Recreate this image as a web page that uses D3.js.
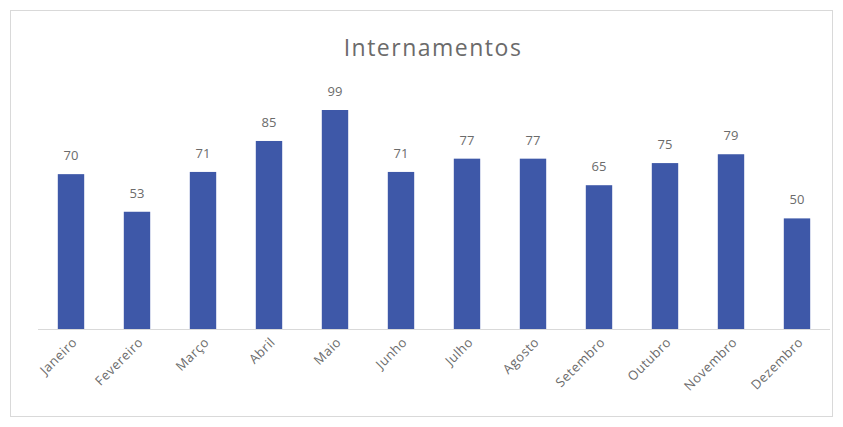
<!DOCTYPE html>
<html><head><meta charset="utf-8">
<script src="https://cdn.jsdelivr.net/npm/d3@7"></script>
<style>body{margin:0;background:#fff}</style>
</head><body>
<svg id="c" width="843" height="427"></svg>
<script>
const months = ["Janeiro","Fevereiro","Março","Abril","Maio","Junho","Julho","Agosto","Setembro","Outubro","Novembro","Dezembro"];
const values = [70,53,71,85,99,71,77,77,65,75,79,50];
const title = "Internamentos";

const svg = d3.select("#c");
svg.append("rect").attr("x",10.5).attr("y",10.5).attr("width",822).attr("height",406)
  .attr("fill","#fff").attr("stroke","#d9d9d9");

const x = d3.scaleBand().domain(months).range([38,830]).paddingInner(0.6).paddingOuter(0.3);
const y = d3.scaleLinear().domain([0,99]).range([329,110]);

svg.append("text").attr("x",433).attr("y",56).attr("text-anchor","middle")
  .attr("font-family","'Open Sans', sans-serif").attr("font-size",23).attr("letter-spacing",1.5)
  .attr("fill","#6b6b6b").text(title);

svg.append("line").attr("x1",38).attr("x2",830).attr("y1",329.5).attr("y2",329.5)
  .attr("stroke","#d9d9d9");

svg.selectAll("rect.bar").data(values).join("rect").attr("class","bar")
  .attr("x",(d,i)=>x(months[i])).attr("width",x.bandwidth())
  .attr("y",d=>y(d)).attr("height",d=>y(0)-y(d)).attr("fill","#3E58A8");

svg.selectAll("text.val").data(values).join("text").attr("class","val")
  .attr("x",(d,i)=>x(months[i])+x.bandwidth()/2).attr("y",d=>y(d)-14)
  .attr("text-anchor","middle").attr("font-family","'Open Sans', sans-serif")
  .attr("font-size",13).attr("fill","#6b6b6b").text(d=>d);

svg.selectAll("text.mon").data(months).join("text").attr("class","mon")
  .attr("transform",d=>`translate(${x(d)+x.bandwidth()/2+7},${343}) rotate(-45)`)
  .attr("text-anchor","end").attr("font-family","'Open Sans', sans-serif")
  .attr("font-size",13).attr("letter-spacing",0.5).attr("fill","#6b6b6b").text(d=>d);
</script>
</body></html>
